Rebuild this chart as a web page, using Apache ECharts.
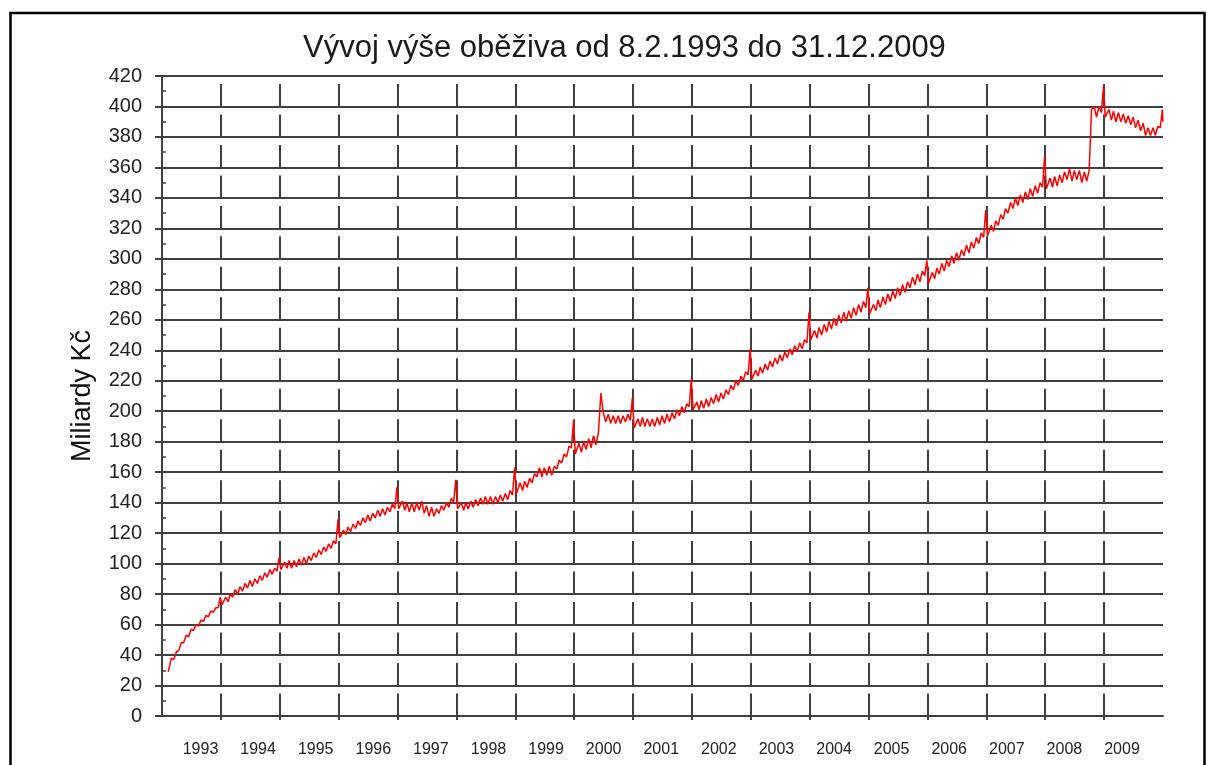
<!DOCTYPE html>
<html><head><meta charset="utf-8">
<script src="https://cdn.jsdelivr.net/npm/echarts@6/dist/echarts.min.js"></script>
<style>html,body{margin:0;padding:0;background:#fff}#c{width:1208px;height:765px}</style>
</head><body><div id="c"></div><script>
// ---- data (billions CZK), semi-monthly readings ----
const titleText = 'Vývoj výše oběživa od 8.2.1993 do 31.12.2009';
const yAxisName = 'Miliardy Kč';
const labelYears = [1993,1994,1995,1996,1997,1998,1999,2000,2001,2002,2003,2004,2005,2006,2007,2008,2009];
const gridYears = [1994,1995,1996,1997,1998,1999,2000,2001,2002,2003,2004,2005,2006,2007,2008,2009];
const sampleDays = ['01-08','01-31','02-15','02-28','03-15','03-31','04-15','04-30','05-15','05-31','06-15','06-30',
                    '07-15','07-31','08-15','08-31','09-15','09-30','10-15','10-31','11-15','11-30','12-15','12-28'];
const firstPoint = ['1993-02-08', 29];
const lastPoint = ['2009-12-31', 390];
const y1993 = [null,null,32,38,37,42,43,48,48,53,52,57,56,60,59,63,62,66,65,69,68,71,71,78];
const y1994 = [73,78,75,80,78,83,80,85,82,87,84,89,85,90,87,92,89,94,91,96,93,97,95,104];
const y1995 = [96,101,97,102,97,102,98,103,99,104,100,105,102,107,104,109,106,111,108,113,110,115,113,129];
const y1996 = [117,122,119,124,121,126,123,128,125,130,127,132,128,133,130,135,131,136,132,137,134,139,136,150];
const y1997 = [136,141,135,140,134,140,134,140,135,141,133,138,131,137,131,136,133,138,135,140,137,143,140,155];
const y1998 = [136,140,135,140,136,141,137,142,138,143,139,144,139,144,139,144,140,145,141,146,142,148,145,163];
const y1999 = [146,153,148,154,150,156,153,159,157,163,157,163,158,164,158,164,162,168,166,172,170,177,176,194];
const y2000 = [172,179,173,180,175,182,176,184,178,186,212,199,193,198,192,197,192,197,192,197,193,198,194,209];
const y2001 = [189,195,190,196,190,195,190,195,190,196,191,197,192,198,193,199,195,201,197,203,199,205,203,221];
const y2002 = [201,206,201,207,202,208,203,209,205,211,206,212,208,214,211,217,214,220,217,223,220,226,224,241];
const y2003 = [221,227,223,229,225,231,227,233,229,235,231,237,233,239,235,241,237,243,239,245,241,247,245,265];
const y2004 = [247,253,248,255,250,257,252,259,254,261,256,263,258,265,259,266,261,268,263,270,265,272,268,281];
const y2005 = [264,270,266,273,268,275,270,277,272,279,274,281,276,283,278,285,281,288,283,290,285,292,289,299];
const y2006 = [284,291,287,294,290,297,292,299,295,302,297,304,299,306,302,309,304,311,307,314,310,317,314,332];
const y2007 = [315,322,318,325,322,329,326,333,330,337,333,340,335,342,337,344,339,346,341,348,343,350,347,367];
const y2008 = [346,353,347,354,348,355,350,357,352,359,351,358,352,358,350,357,351,358,398,400,393,400,396,413];
const y2009 = [393,398,391,397,390,396,390,395,389,394,388,393,386,391,384,389,381,386,381,386,381,387,386,398];
const yearValues = [y1993,y1994,y1995,y1996,y1997,y1998,y1999,y2000,y2001,y2002,y2003,y2004,y2005,y2006,y2007,y2008,y2009];

// ---- build series from the arrays ----
function frac(dateStr){
  const [Y,M,D] = dateStr.split('-').map(Number);
  const t = Date.UTC(Y,M-1,D), t0 = Date.UTC(Y,0,1), t1 = Date.UTC(Y+1,0,1);
  return Y + (t - t0)/(t1 - t0);
}
const seriesData = [[frac(firstPoint[0]), firstPoint[1]]];
yearValues.forEach((arr, i) => {
  const yr = labelYears[i];
  arr.forEach((v, j) => { if (v !== null) seriesData.push([frac(yr + '-' + sampleDays[j]), v]); });
});
seriesData.push([frac(lastPoint[0]), lastPoint[1]]);

const FONT = "'Liberation Sans', Arial, sans-serif";
const GRID = '#404040';
const chart = echarts.init(document.getElementById('c'), null, {renderer:'canvas'});
chart.setOption({
  animation:false,
  backgroundColor:'#ffffff',
  title:{text:titleText, left:298, top:28, textStyle:{fontFamily:FONT, fontSize:31, fontWeight:'normal', color:'#1a1a1a'}},
  grid:{left:162, top:76, right:45, bottom:49, containLabel:false},
  xAxis:[
    {type:'value', min:1993, max:2010, interval:1, position:'bottom',
     axisLine:{show:true, lineStyle:{color:GRID, width:2}},
     axisTick:{show:true, length:4, customValues:gridYears, lineStyle:{color:GRID, width:2}},
     axisLabel:{show:false},
     splitLine:{show:true, lineStyle:{color:GRID, width:2, type:[22.5,7.976], dashOffset:22.5}}},
    {type:'value', min:1992.3315, max:2009.712, position:'bottom',
     axisLine:{show:false}, axisTick:{show:false}, splitLine:{show:false},
     axisLabel:{show:true, customValues:labelYears, formatter:v=>String(v), margin:26, fontSize:16, color:'#222', fontFamily:FONT}}
  ],
  yAxis:[
    {type:'value', min:0, max:420, interval:20, position:'left',
     axisLine:{show:true, lineStyle:{color:GRID, width:2}},
     axisTick:{show:true, length:7, lineStyle:{color:GRID, width:2}},
     axisLabel:{margin:20, fontSize:20, color:'#222', fontFamily:FONT},
     splitLine:{show:true, lineStyle:{color:GRID, width:2}},
     name:yAxisName, nameLocation:'middle', nameGap:66, nameRotate:90,
     nameTextStyle:{fontSize:27, color:'#111', fontFamily:FONT}},
    {type:'value', min:0, max:420, interval:10, position:'left',
     axisLine:{show:false}, axisTick:{show:true, inside:true, length:4, lineStyle:{color:GRID, width:1.5}},
     axisLabel:{show:false}, splitLine:{show:false}}
  ],
  series:[{type:'line', data:seriesData, xAxisIndex:0, yAxisIndex:0, symbol:'none', showSymbol:false,
           lineStyle:{color:'#ff0000', width:1.5}}],
  graphic:[{type:'rect', silent:true, shape:{x:10.5, y:13, width:1194, height:800},
            style:{fill:null, stroke:'#000', lineWidth:2.5}}]
});
</script></body></html>
